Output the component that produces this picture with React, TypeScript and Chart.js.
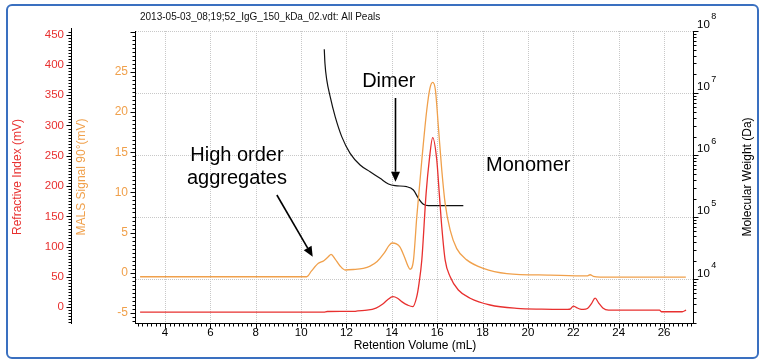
import React, { useEffect, useRef } from 'react';
import { Chart, registerables } from 'chart.js';

Chart.register(...registerables);

const FONT = '"Liberation Sans", Arial, Helvetica, sans-serif';
const RED = '#e8302f';
const ORANGE = '#f0a04b';

// ---- data ----
const riX = [2.9, 6, 9, 11.0, 11.15, 12.35, 12.5, 12.9, 13.3, 13.6, 13.8, 14.05, 14.25, 14.45, 14.7, 14.92, 15.1, 15.2, 15.32, 15.51, 15.65, 15.8, 15.98, 16.09, 16.2, 16.35, 16.57, 16.93, 17.45, 18.33, 19.51, 20.6, 21.75, 21.88, 22.0, 22.12, 22.3, 22.44, 22.62, 22.8, 22.96, 23.12, 23.3, 23.55, 25.8, 25.88, 26.8, 26.97];
const riY = [-7.8, -7.8, -7.8, -7.8, -6.9, -6.7, -5.8, -4.8, -1.2, 5.4, 12, 17.5, 15, 9, 3.5, 1, 18, 40, 78, 188, 243, 280, 243, 188, 133, 78, 50.5, 28.5, 15, 3.8, -1.7, -3.0, -3.3, -2.5, 2, 0, -3, -3.3, -2, 6, 15, 7, -1, -4.5, -4.5, -7.3, -7.3, -4.5];

const malsX = [2.9, 10.25, 10.45, 10.76, 11.0, 11.2, 11.32, 11.5, 11.7, 11.94, 12.3, 12.74, 13.04, 13.35, 13.65, 13.88, 14.01, 14.2, 14.36, 14.55, 14.7, 14.8, 14.95, 15.1, 15.32, 15.54, 15.68, 15.8, 15.92, 16.05, 16.2, 16.35, 16.57, 16.86, 17.3, 18.03, 19.07, 20.98, 22.6, 22.74, 22.88, 23.18, 26.96];
const malsY = [-0.5, -0.5, 0.2, 1.17, 1.5, 2.0, 2.29, 1.7, 0.9, 0.34, 0.4, 0.55, 0.83, 1.4, 2.4, 3.4, 3.7, 3.6, 3.2, 2.0, 0.9, 0.42, 1.5, 7.0, 14.0, 20.3, 23.0, 23.7, 22.75, 18.2, 12.8, 8.6, 5.3, 3.0, 1.6, 0.55, -0.1, -0.3, -0.4, -0.25, -0.45, -0.55, -0.55];

const mwX = [11.02, 11.05, 11.13, 11.28, 11.5, 11.79, 12.16, 12.6, 13.04, 13.48, 13.85, 14.14, 14.66, 14.95, 15.17, 15.39, 15.61, 17.15];
const mwY = [5.07e7, 3.02e7, 1.63e7, 8.75e6, 4.17e6, 1.99e6, 1.07e6, 6.96e5, 5.42e5, 4.25e5, 3.44e5, 3.23e5, 3.11e5, 2.75e5, 2.02e5, 1.62e5, 1.54e5, 1.54e5];

const xTicks = [4, 6, 8, 10, 12, 14, 16, 18, 20, 22, 24, 26];
const riTicks = [0, 50, 100, 150, 200, 250, 300, 350, 400, 450];
const malsTicks = [-5, 0, 5, 10, 15, 20, 25];
const mwExponents = [4, 5, 6, 7, 8];

const TITLE = '2013-05-03_08;19;52_IgG_150_kDa_02.vdt: All Peals';
const X_TITLE = 'Retention Volume (mL)';
const RI_TITLE = 'Refractive Index (mV)';
const MALS_TITLE = 'MALS Signal 90°(mV)';
const MW_TITLE = 'Molecular Weight (Da)';

// annotation texts (positions in x / MALS units)
const labelTexts = ['Dimer', 'Monomer', 'High order', 'aggregates'];
const labelX = [12.69, 18.15, 7.17, 7.17];
const labelY = [23.13, 12.66, 13.95, 11.05];
const labelAlign = ['left', 'left', 'center', 'center'];
// arrows in x / MALS units
const arrowFromX = [14.16, 8.93];
const arrowFromY = [21.76, 9.68];
const arrowToX = [14.16, 10.51];
const arrowToY = [11.33, 1.99];

const decor = {
  id: 'decor',
  beforeDatasetsDraw(chart: any) {
    const { ctx, chartArea: a, scales } = chart;
    ctx.save();
    ctx.strokeStyle = '#c8c8c8';
    ctx.lineWidth = 1;
    ctx.setLineDash([1, 1]);
    for (const v of xTicks) {
      const px = Math.round(scales.x.getPixelForValue(v)) + 0.5;
      ctx.beginPath(); ctx.moveTo(px, a.top); ctx.lineTo(px, a.bottom); ctx.stroke();
    }
    for (const d of mwExponents) {
      const py = Math.round(scales.mw.getPixelForValue(Math.pow(10, d))) + 0.5;
      ctx.beginPath(); ctx.moveTo(a.left, py); ctx.lineTo(a.right, py); ctx.stroke();
    }
    ctx.restore();
  },
  afterDraw(chart: any) {
    const { ctx, chartArea: a, scales } = chart;
    const sx = scales.x, sri = scales.ri, sm = scales.mals, smw = scales.mw;
    ctx.save();
    ctx.setLineDash([]);
    ctx.strokeStyle = '#000';
    ctx.lineWidth = 1;
    const seg = (x1: number, y1: number, x2: number, y2: number) => {
      ctx.beginPath(); ctx.moveTo(x1, y1); ctx.lineTo(x2, y2); ctx.stroke();
    };
    const rp = (v: number) => Math.round(v) + 0.5;

    // x axis
    const yb = a.bottom + 0.5;
    seg(a.left - 1, yb, a.right, yb);
    for (let i = 13; i <= 137; i++) {
      const v = i / 5;
      if (v < sx.min || v > sx.max) continue;
      const px = rp(sx.getPixelForValue(v));
      seg(px, yb, px, yb + (i % 10 === 0 ? 5 : 3));
    }
    // RI axis
    const xr = sri.right - 0.5;
    seg(xr, a.top - 3, xr, a.bottom + 1);
    for (let i = -5; i <= 92; i++) {
      const v = i * 5;
      if (v < sri.min || v > sri.max) continue;
      const py = rp(sri.getPixelForValue(v));
      seg(xr - (v % 50 === 0 ? 5 : 3), py, xr, py);
    }
    // MALS axis
    const xm = a.left - 0.5;
    seg(xm, a.top, xm, a.bottom + 1);
    for (let i = -13; i <= 61; i++) {
      const v = i / 2;
      if (v < sm.min || v > sm.max) continue;
      const py = rp(sm.getPixelForValue(v));
      seg(xm - (i % 10 === 0 ? 5 : 3), py, xm, py);
    }
    // MW axis
    const xw = a.right - 0.5;
    seg(xw, a.top, xw, a.bottom + 1);
    for (let d = 3; d <= 8; d++) {
      for (let k = 1; k <= 9; k++) {
        const v = k * Math.pow(10, d);
        if (v < smw.min || v > smw.max * 1.001) continue;
        const py = rp(smw.getPixelForValue(v));
        seg(xw, py, xw + (k === 1 ? 5 : 3), py);
      }
    }
    // MW labels
    ctx.fillStyle = '#000';
    ctx.textAlign = 'left';
    ctx.textBaseline = 'middle';
    for (const d of mwExponents) {
      const py = smw.getPixelForValue(Math.pow(10, d));
      ctx.font = '11.5px ' + FONT;
      ctx.fillText('10', a.right + 3, py - 6);
      const w = ctx.measureText('10').width;
      ctx.font = '9px ' + FONT;
      ctx.fillText(String(d), a.right + 3 + w + 1.5, py - 14);
    }
    // MW title
    ctx.save();
    ctx.translate(748, (a.top + a.bottom) / 2);
    ctx.rotate(-Math.PI / 2);
    ctx.textAlign = 'center';
    ctx.font = '12px ' + FONT;
    ctx.fillText(MW_TITLE, 0, 0);
    ctx.restore();

    // top title
    ctx.font = '10px ' + FONT;
    ctx.textAlign = 'left';
    ctx.textBaseline = 'middle';
    ctx.fillStyle = '#111';
    ctx.fillText(TITLE, a.left + 4, 17.5);

    // annotations
    ctx.fillStyle = '#000';
    ctx.font = '20px ' + FONT;
    ctx.textBaseline = 'alphabetic';
    labelTexts.forEach((t, i) => {
      ctx.textAlign = labelAlign[i];
      ctx.fillText(t, sx.getPixelForValue(labelX[i]), sm.getPixelForValue(labelY[i]));
    });
    ctx.lineWidth = 1.6;
    for (let i = 0; i < arrowFromX.length; i++) {
      const x1 = sx.getPixelForValue(arrowFromX[i]);
      const y1 = sm.getPixelForValue(arrowFromY[i]);
      const x2 = sx.getPixelForValue(arrowToX[i]);
      const y2 = sm.getPixelForValue(arrowToY[i]);
      const ang = Math.atan2(y2 - y1, x2 - x1);
      const hl = 10, hw = 4.5;
      const bx = x2 - hl * Math.cos(ang), by = y2 - hl * Math.sin(ang);
      seg(x1, y1, bx, by);
      ctx.beginPath();
      ctx.moveTo(x2, y2);
      ctx.lineTo(bx + hw * Math.sin(ang), by - hw * Math.cos(ang));
      ctx.lineTo(bx - hw * Math.sin(ang), by + hw * Math.cos(ang));
      ctx.closePath();
      ctx.fill();
    }
    ctx.restore();
  },
};

export default function App() {
  const ref = useRef<HTMLCanvasElement | null>(null);
  useEffect(() => {
    if (!ref.current) return;
    Chart.defaults.font.family = FONT;
    const chart = new Chart(ref.current, {
      type: 'line',
      data: {
        datasets: [
          {
            label: 'RI',
            data: riX.map((x, i) => ({ x, y: riY[i] })),
            yAxisID: 'ri',
            borderColor: RED,
            borderWidth: 1.3,
            pointRadius: 0,
            fill: false,
            cubicInterpolationMode: 'monotone',
          },
          {
            label: 'MALS',
            data: malsX.map((x, i) => ({ x, y: malsY[i] })),
            yAxisID: 'mals',
            borderColor: ORANGE,
            borderWidth: 1.3,
            pointRadius: 0,
            fill: false,
            cubicInterpolationMode: 'monotone',
          },
          {
            label: 'MW',
            data: mwX.map((x, i) => ({ x, y: mwY[i] })),
            yAxisID: 'mw',
            borderColor: '#111',
            borderWidth: 1.2,
            pointRadius: 0,
            fill: false,
            cubicInterpolationMode: 'monotone',
          },
        ],
      },
      options: {
        responsive: false,
        animation: false,
        events: [],
        layout: { padding: { top: 31, left: 0, right: 0, bottom: 0 } },
        plugins: { legend: { display: false }, tooltip: { enabled: false }, title: { display: false } },
        scales: {
          x: {
            type: 'linear',
            position: 'bottom',
            min: 2.72,
            max: 27.32,
            afterBuildTicks: (s: any) => { s.ticks = xTicks.map((v) => ({ value: v })); },
            afterFit: (s: any) => { s.height = 41; },
            grid: { display: false, drawTicks: false },
            border: { display: false },
            ticks: { color: '#000', font: { size: 11.5 }, padding: 3, maxRotation: 0, autoSkip: false },
            title: { display: true, text: X_TITLE, color: '#000', font: { size: 12 }, padding: { top: 0, bottom: 11 } },
          },
          ri: {
            type: 'linear',
            position: 'left',
            weight: 1,
            min: -25.9,
            max: 455.9,
            afterBuildTicks: (s: any) => { s.ticks = riTicks.map((v) => ({ value: v })); },
            afterFit: (s: any) => { s.width = 72; },
            grid: { display: false, drawTicks: false },
            border: { display: false },
            ticks: { color: RED, font: { size: 11.5 }, padding: 8 },
            title: { display: true, text: RI_TITLE, color: RED, font: { size: 12 }, padding: { top: 10, bottom: 0 } },
          },
          mals: {
            type: 'linear',
            position: 'left',
            weight: 0,
            min: -6.26,
            max: 30.1,
            afterBuildTicks: (s: any) => { s.ticks = malsTicks.map((v) => ({ value: v })); },
            afterFit: (s: any) => { s.width = 64; },
            grid: { display: false, drawTicks: false },
            border: { display: false },
            ticks: { color: ORANGE, font: { size: 12 }, padding: 8 },
            title: { display: true, text: MALS_TITLE, color: ORANGE, font: { size: 12 }, padding: { top: 2.5, bottom: 0 } },
          },
          mw: {
            type: 'logarithmic',
            position: 'right',
            min: 1986,
            max: 1e8,
            afterFit: (s: any) => { s.width = 68; },
            grid: { display: false, drawTicks: false },
            border: { display: false },
            ticks: { display: false },
            title: { display: false },
          },
        },
      },
      plugins: [decor],
    } as any);
    return () => chart.destroy();
  }, []);

  return (
    <div style={{ position: 'absolute', left: 0, top: 0, width: 762, height: 364 }}>
      <div
        style={{
          position: 'absolute',
          left: 6,
          top: 4,
          width: 753,
          height: 355,
          border: '2px solid #3a70c0',
          borderRadius: 6,
          boxSizing: 'border-box',
        }}
      />
      <canvas ref={ref} width={762} height={364} style={{ position: 'absolute', left: 0, top: 0, display: 'block' }} />
    </div>
  );
}
